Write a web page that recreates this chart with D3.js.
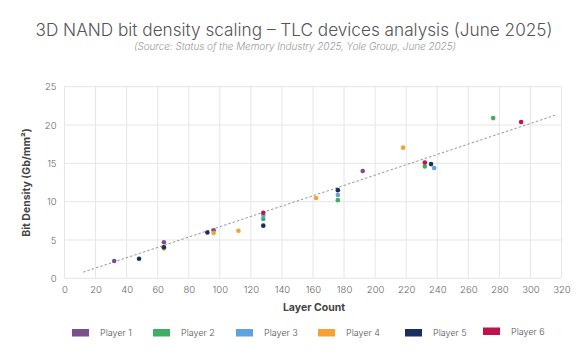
<!DOCTYPE html>
<html>
<head>
<meta charset="utf-8">
<script src="https://cdn.jsdelivr.net/npm/d3@7"></script>
<style>
  html, body { margin: 0; padding: 0; background: #fff; }
  svg { display: block; font-family: "Inter", "Open Sans", sans-serif; }
</style>
</head>
<body>
<svg id="chart" width="584" height="363"></svg>
<script>
const title = "3D NAND bit density scaling – TLC devices analysis (June 2025)";
const subtitle = "(Source: Status of the Memory Industry 2025, Yole Group, June 2025)";
const xLabel = "Layer Count";
const yLabel = "Bit Density (Gb/mm²)";
const players = ["Player 1", "Player 2", "Player 3", "Player 4", "Player 5", "Player 6"];
const colors = ["#7b4f8c", "#3daf62", "#5fa3dc", "#f4a233", "#1c2e5e", "#c0134a"];
const xTicks = [0, 20, 40, 60, 80, 100, 120, 140, 160, 180, 200, 220, 240, 260, 280, 300, 320];
const yTicks = [0, 5, 10, 15, 20, 25];

const player1 = [[32, 2.26], [64, 4.7], [96, 6.27], [192, 14.0]];
const player2 = [[128, 7.74], [176, 10.2], [232, 14.6], [276, 20.9]];
const player3 = [[128, 8.2], [176, 10.87], [238, 14.4]];
const player4 = [[64, 3.88], [96, 5.92], [112, 6.2], [162, 10.48], [218, 17.05]];
const player5 = [[48, 2.56], [64, 4.05], [92, 5.97], [128, 6.87], [176, 11.5], [236, 14.9]];
const player6 = [[128, 8.56], [232, 15.1], [294, 20.4]];
const seriesValues = [player1, player2, player3, player4, player5, player6];
const trendLine = [[12, 0.8], [317, 21.35]];

const svg = d3.select("#chart");
const x = d3.scaleLinear().domain([0, 320]).range([64.5, 561.5]);
const y = d3.scaleLinear().domain([0, 25]).range([278.3, 86.7]);

// title
svg.append("text").attr("x", 294).attr("y", 36).attr("text-anchor", "middle")
  .attr("font-size", 17.2).attr("font-weight", 300).attr("fill", "#555").text(title);
svg.append("text").attr("x", 295).attr("y", 50).attr("text-anchor", "middle")
  .attr("font-size", 10).attr("font-style", "italic").attr("font-weight", 300).attr("fill", "#9a9a9a")
  .attr("textLength", 322).attr("lengthAdjust", "spacing").text(subtitle);

// grid
const grid = svg.append("g");
grid.selectAll(".vx").data(xTicks).join("line")
  .attr("x1", d => x(d)).attr("x2", d => x(d)).attr("y1", y(25)).attr("y2", y(0))
  .attr("stroke", "#e6e6e6").attr("stroke-width", 1);
grid.selectAll(".hy").data(yTicks).join("line")
  .attr("x1", x(0)).attr("x2", x(320)).attr("y1", d => y(d)).attr("y2", d => y(d))
  .attr("stroke", "#e6e6e6").attr("stroke-width", 1);

// axes
const xAxis = svg.append("g").attr("transform", `translate(0,${y(0)})`)
  .call(d3.axisBottom(x).tickValues(xTicks).tickSize(0).tickPadding(8));
xAxis.select(".domain").remove();
xAxis.selectAll("text").attr("font-size", 9.5).attr("fill", "#666").attr("font-family", "Inter, sans-serif").attr("font-weight", 300);

const yAxis = svg.append("g").attr("transform", `translate(${x(0)},0)`)
  .call(d3.axisLeft(y).tickValues(yTicks).tickSize(0).tickPadding(8));
yAxis.select(".domain").remove();
yAxis.selectAll("text").attr("font-size", 9.5).attr("fill", "#666").attr("font-family", "Inter, sans-serif").attr("font-weight", 300);

// axis titles
svg.append("text").attr("x", 314).attr("y", 311).attr("text-anchor", "middle")
  .attr("font-size", 10.5).attr("font-weight", 700).attr("fill", "#444").text(xLabel);
svg.append("text").attr("transform", `translate(30,${(y(0) + y(25)) / 2}) rotate(-90)`)
  .attr("text-anchor", "middle").attr("font-size", 10.5).attr("font-weight", 700).attr("fill", "#444").text(yLabel);

// trend line
svg.append("path").datum(trendLine)
  .attr("d", d3.line().x(d => x(d[0])).y(d => y(d[1])))
  .attr("fill", "none").attr("stroke", "#8a8a8a").attr("stroke-width", 0.9).attr("stroke-dasharray", "2.5,2");

// points
seriesValues.forEach((vals, i) => {
  svg.append("g").selectAll("circle").data(vals).join("circle")
    .attr("cx", d => x(d[0])).attr("cy", d => y(d[1])).attr("r", 2.3)
    .attr("fill", colors[i]);
});

// legend
const legendX = [72, 153, 236, 318, 405, 483];
const legendY = [329, 329, 329, 329, 329, 327.5];
const lg = svg.append("g");
players.forEach((p, i) => {
  lg.append("rect").attr("x", legendX[i]).attr("y", legendY[i]).attr("width", 17).attr("height", 7.5)
    .attr("fill", colors[i]);
  lg.append("text").attr("x", legendX[i] + 28).attr("y", legendY[i] + 7)
    .attr("font-size", 9).attr("font-weight", 300).attr("fill", "#555").text(p);
});
</script>
</body>
</html>
